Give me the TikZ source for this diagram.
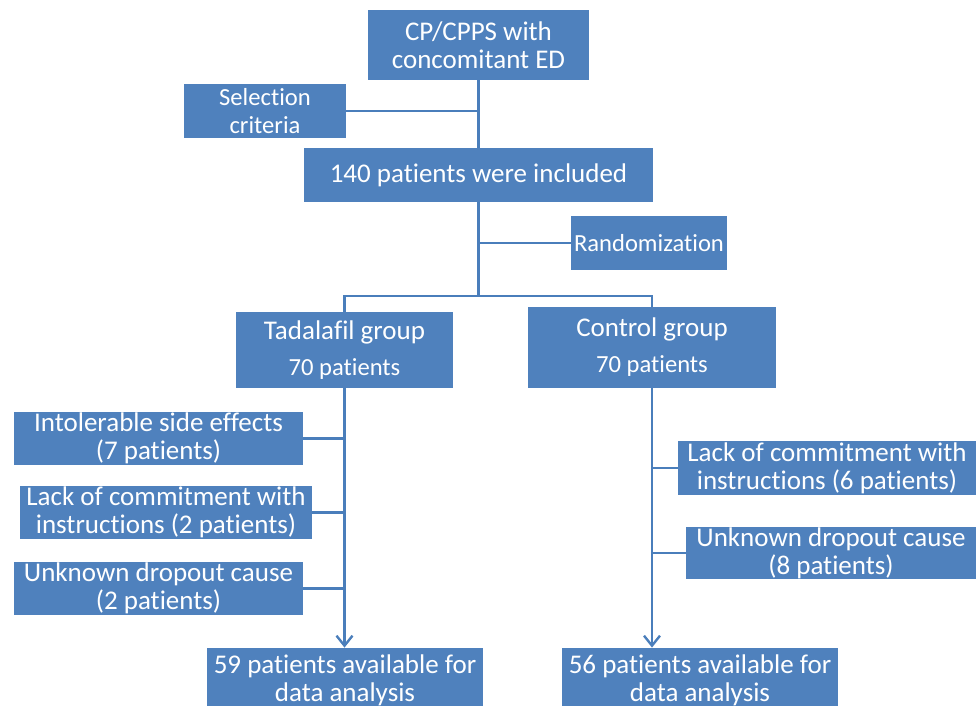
\documentclass[tikz,border=0pt]{standalone}
\usepackage{fontspec}
\setmainfont{Carlito}[Ligatures=NoCommon]
\usetikzlibrary{arrows.meta}
\definecolor{boxblue}{HTML}{4F81BD}
\definecolor{linkblue}{HTML}{4A7EBB}
\newcommand{\boxtxt}{\fontsize{13.5}{14}\selectfont}
\newcommand{\sidetxt}{\fontsize{12.3}{14}\selectfont}

\begin{document}
\begin{tikzpicture}[x=0.5pt,y=-0.5pt,
  box/.style={fill=boxblue,text=white,inner sep=0,align=center,font=\boxtxt},
  side/.style={box,font=\sidetxt},
  link/.style={linkblue,line width=1.2pt},
  flow/.style={link,-{Straight Barb[length=5pt,width=8pt,line width=1.2pt]}}]
\useasboundingbox (0,0) rectangle (976,706);
\clip (0,0) rectangle (976,706);
% top part
\node[box,minimum width=110.5pt,minimum height=35pt] (cpps) at (478.5,45) {CP/CPPS with\\concomitant ED};
\node[side,minimum width=81pt,minimum height=27pt] (select) at (265,111) {Selection\\criteria};
\node[box,minimum width=174.5pt,minimum height=27pt] (incl) at (478.5,175) {140 patients were included};
\node[side,minimum width=78pt,minimum height=27pt] (rand) at (649,243) {Randomization};
\coordinate (split) at (478.5,296);
% groups
\node[box,minimum width=108.5pt,minimum height=38pt] (tada) at (344.5,350) {Tadalafil group\\[4pt]\sidetxt 70 patients};
\node[box,minimum width=124pt,minimum height=40.5pt] (ctrl) at (652,347.5) {Control group\\[4pt]\sidetxt 70 patients};
% dropouts, tadalafil arm
\node[box,minimum width=144.5pt,minimum height=26.5pt] (tside) at (158.5,438.5) {Intolerable side effects\\(7 patients)};
\node[box,minimum width=146pt,minimum height=26.5pt] (tcomm) at (166,512.5) {Lack of commitment with\\instructions (2 patients)};
\node[box,minimum width=144.5pt,minimum height=26.5pt] (tunk) at (158.5,588.5) {Unknown dropout cause\\(2 patients)};
% dropouts, control arm
\node[box,minimum width=149pt,minimum height=27pt] (ccomm) at (827,468) {Lack of commitment with\\instructions (6 patients)};
\node[box,minimum width=145pt,minimum height=26pt] (cunk) at (831,553) {Unknown dropout cause\\(8 patients)};
% results
\node[box,minimum width=138pt,minimum height=32pt] (tres) at (345,680) {59 patients available for\\data analysis};
\node[box,minimum width=138pt,minimum height=32pt] (cres) at (700,680) {56 patients available for\\data analysis};
% connectors
\draw[link] (cpps) -- (incl);
\draw[link] (select) -- (select -| cpps);
\draw[link] (incl) -- (split);
\draw[link] (rand) -- (rand -| split);
\draw[link] (split) -| (tada);
\draw[link] (split) -| (ctrl);
\draw[flow] (tada.south) -- (tada.south |- tres.north);
\draw[flow] (ctrl.south) -- (ctrl.south |- cres.north);
\draw[link] (tside) -- (tside -| tada);
\draw[link] (tcomm) -- (tcomm -| tada);
\draw[link] (tunk) -- (tunk -| tada);
\draw[link] (ccomm) -- (ccomm -| ctrl);
\draw[link] (cunk) -- (cunk -| ctrl);
\end{tikzpicture}
\end{document}
